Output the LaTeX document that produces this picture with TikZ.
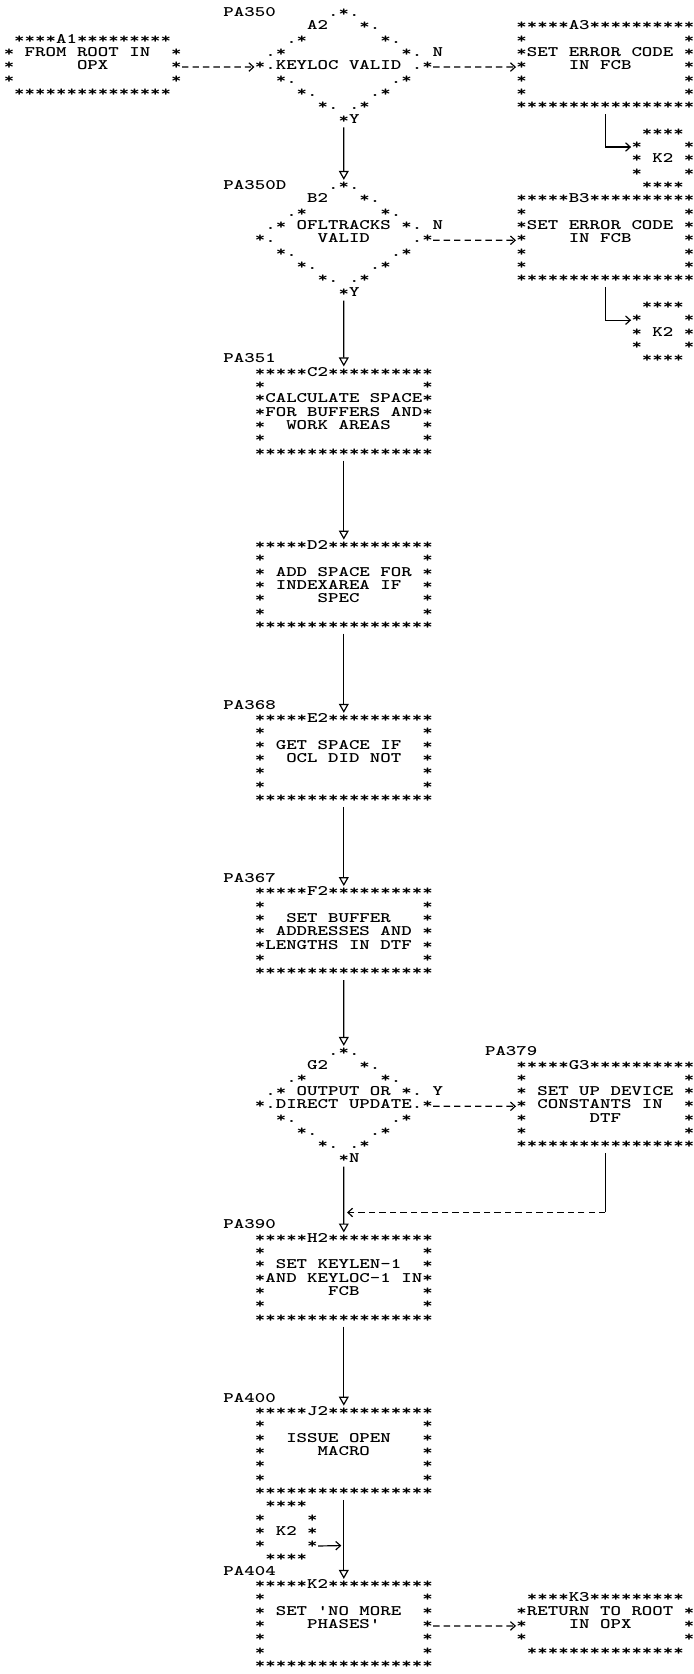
\documentclass[tikz,border=0pt]{standalone}
\usepackage{graphicx}
\usetikzlibrary{arrows.meta}
\newcommand{\asc}[1]{\scalebox{1.3725}[1]{\begin{tabular}{@{}l@{}}#1\end{tabular}}}
\newcommand{\rw}{\\\relax}

\begin{document}
\begin{tikzpicture}[x=4.9pt,y=-6.24pt,
  txt/.style={anchor=north west,inner sep=0pt,font=\ttfamily\bfseries\fontsize{6.8}{6.24}\selectfont},
  dsh/.style={line width=.55pt,dash pattern=on 3pt off 1.9pt,-{Straight Barb[length=2.2pt,width=4pt]}},
  tl/.style={line width=.55pt,-{Straight Barb[length=2.2pt,width=4pt]}},
  ln/.style={line width=.55pt,-{Triangle[open,length=4.2pt,width=4.6pt]}}]
\useasboundingbox (-0.82,0) rectangle (65.51,125.64);
\fill[white] (-0.82,0) rectangle (65.51,125.64);
\node[txt] (pa350) at (20.5,0.5) {\asc{PA350}};
\node[txt] (a1) at (-0.5,2.5) {\asc{~****A1*********\rw *~FROM~ROOT~IN~~*\rw *~~~~~~OPX~~~~~~*\rw *~~~~~~~~~~~~~~~*\rw ~***************}};
\node[txt] (a2) at (23.5,0.5) {\asc{~~~~~~~.*.\rw ~~~~~A2~~~*.\rw ~~~.*~~~~~~~*.\rw ~.*~~~~~~~~~~~*.\rw *.KEYLOC~VALID~.*\rw ~~*.~~~~~~~~~.*\rw ~~~~*.~~~~~.*\rw ~~~~~~*.~.*\rw ~~~~~~~~*Y}};
\node[txt] (na2) at (40.5,3.5) {\asc{N}};
\node[txt] (a3) at (48.5,1.5) {\asc{*****A3**********\rw *~~~~~~~~~~~~~~~*\rw *SET~ERROR~CODE~*\rw *~~~~IN~FCB~~~~~*\rw *~~~~~~~~~~~~~~~*\rw *~~~~~~~~~~~~~~~*\rw *****************}};
\node[txt] (k2a) at (59.5,9.5) {\asc{~****\rw *~~~~*\rw *~K2~*\rw *~~~~*\rw ~****}};

\node[txt] (pa350d) at (20.5,13.5) {\asc{PA350D}};
\node[txt] (b2) at (23.5,13.5) {\asc{~~~~~~~.*.\rw ~~~~~B2~~~*.\rw ~~~.*~~~~~~~*.\rw ~.*~OFLTRACKS~*.\rw *.~~~~VALID~~~~.*\rw ~~*.~~~~~~~~~.*\rw ~~~~*.~~~~~.*\rw ~~~~~~*.~.*\rw ~~~~~~~~*Y}};
\node[txt] (nb2) at (40.5,16.5) {\asc{N}};
\node[txt] (b3) at (48.5,14.5) {\asc{*****B3**********\rw *~~~~~~~~~~~~~~~*\rw *SET~ERROR~CODE~*\rw *~~~~IN~FCB~~~~~*\rw *~~~~~~~~~~~~~~~*\rw *~~~~~~~~~~~~~~~*\rw *****************}};
\node[txt] (k2b) at (59.5,22.5) {\asc{~****\rw *~~~~*\rw *~K2~*\rw *~~~~*\rw ~****}};

\node[txt] (pa351) at (20.5,26.5) {\asc{PA351}};
\node[txt] (c2) at (23.5,27.5) {\asc{*****C2**********\rw *~~~~~~~~~~~~~~~*\rw *CALCULATE~SPACE*\rw *FOR~BUFFERS~AND*\rw *~~WORK~AREAS~~~*\rw *~~~~~~~~~~~~~~~*\rw *****************}};
\node[txt] (d2) at (23.5,40.5) {\asc{*****D2**********\rw *~~~~~~~~~~~~~~~*\rw *~ADD~SPACE~FOR~*\rw *~INDEXAREA~IF~~*\rw *~~~~~SPEC~~~~~~*\rw *~~~~~~~~~~~~~~~*\rw *****************}};
\node[txt] (pa368) at (20.5,52.5) {\asc{PA368}};
\node[txt] (e2) at (23.5,53.5) {\asc{*****E2**********\rw *~~~~~~~~~~~~~~~*\rw *~GET~SPACE~IF~~*\rw *~~OCL~DID~NOT~~*\rw *~~~~~~~~~~~~~~~*\rw *~~~~~~~~~~~~~~~*\rw *****************}};
\node[txt] (pa367) at (20.5,65.5) {\asc{PA367}};
\node[txt] (f2) at (23.5,66.5) {\asc{*****F2**********\rw *~~~~~~~~~~~~~~~*\rw *~~SET~BUFFER~~~*\rw *~ADDRESSES~AND~*\rw *LENGTHS~IN~DTF~*\rw *~~~~~~~~~~~~~~~*\rw *****************}};

\node[txt] (g2) at (23.5,78.5) {\asc{~~~~~~~.*.\rw ~~~~~G2~~~*.\rw ~~~.*~~~~~~~*.\rw ~.*~OUTPUT~OR~*.\rw *.DIRECT~UPDATE.*\rw ~~*.~~~~~~~~~.*\rw ~~~~*.~~~~~.*\rw ~~~~~~*.~.*\rw ~~~~~~~~*N}};
\node[txt] (yg2) at (40.5,81.5) {\asc{Y}};
\node[txt] (pa379) at (45.5,78.5) {\asc{PA379}};
\node[txt] (g3) at (48.5,79.5) {\asc{*****G3**********\rw *~~~~~~~~~~~~~~~*\rw *~SET~UP~DEVICE~*\rw *~CONSTANTS~IN~~*\rw *~~~~~~DTF~~~~~~*\rw *~~~~~~~~~~~~~~~*\rw *****************}};

\node[txt] (pa390) at (20.5,91.5) {\asc{PA390}};
\node[txt] (h2) at (23.5,92.5) {\asc{*****H2**********\rw *~~~~~~~~~~~~~~~*\rw *~SET~KEYLEN-1~~*\rw *AND~KEYLOC-1~IN*\rw *~~~~~~FCB~~~~~~*\rw *~~~~~~~~~~~~~~~*\rw *****************}};
\node[txt] (pa400) at (20.5,104.5) {\asc{PA400}};
\node[txt] (j2) at (23.5,105.5) {\asc{*****J2**********\rw *~~~~~~~~~~~~~~~*\rw *~~ISSUE~OPEN~~~*\rw *~~~~~MACRO~~~~~*\rw *~~~~~~~~~~~~~~~*\rw *~~~~~~~~~~~~~~~*\rw *****************}};
\node[txt] (k2c) at (23.5,112.5) {\asc{~****\rw *~~~~*\rw *~K2~*\rw *~~~~*\rw ~****}};
\node[txt] (pa404) at (20.5,117.5) {\asc{PA404}};
\node[txt] (k2) at (23.5,118.5) {\asc{*****K2**********\rw *~~~~~~~~~~~~~~~*\rw *~SET~\textquotesingle NO~MORE~~*\rw *~~~~PHASES\textquotesingle~~~~*\rw *~~~~~~~~~~~~~~~*\rw *~~~~~~~~~~~~~~~*\rw *****************}};
\node[txt] (k3) at (48.5,119.5) {\asc{~****K3*********\rw *RETURN~TO~ROOT~*\rw *~~~~IN~OPX~~~~~*\rw *~~~~~~~~~~~~~~~*\rw ~***************}};

\coordinate (jn) at (32.35,91);
\coordinate (kin) at (31.8,116);

\draw[dsh] (a1.east) -- (a2.west);
\draw[dsh] (a2.east) -- (a3.west);
\draw[tl] (a3.south) |- ([yshift=6.24pt]k2a.west);
\draw[ln] (a2.south) -- (b2.north);
\draw[dsh] (b2.east) -- (b3.west);
\draw[tl] (b3.south) |- ([yshift=6.24pt]k2b.west);
\draw[ln] (b2.south) -- (c2.north);
\draw[ln] (c2.south) -- (d2.north);
\draw[ln] (d2.south) -- (e2.north);
\draw[ln] (e2.south) -- (f2.north);
\draw[ln] (f2.south) -- (g2.north);
\draw[dsh] (g2.east) -- (g3.west);
\draw[ln] (g2.south) -- (h2.north);
\draw[line width=.55pt] (g3.south) -- (g3.south |- jn);
\draw[dsh] (g3.south |- jn) -- (jn);
\draw[ln] (h2.south) -- (j2.north);
\draw[ln] (j2.south) -- (k2.north);
\draw[tl] ([yshift=-6.24pt]k2c.east) -- (kin);
\draw[dsh] (k2.east) -- (k3.west);
\end{tikzpicture}
\end{document}
